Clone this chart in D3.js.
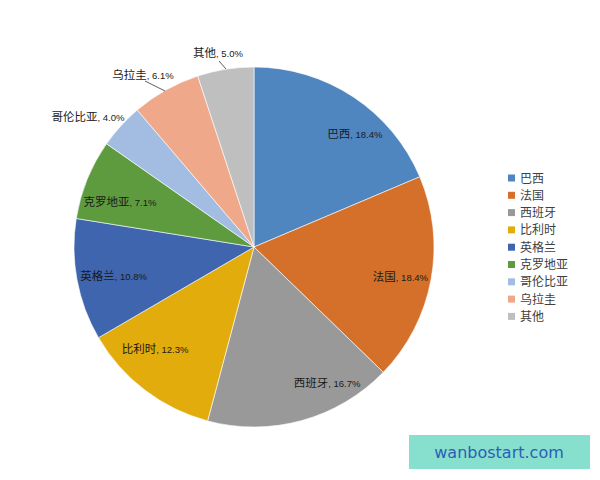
<!DOCTYPE html>
<html><head><meta charset="utf-8">
<script src="https://cdn.jsdelivr.net/npm/d3@7"></script>
<style>body{margin:0;background:#fff;}svg{display:block;}</style>
</head><body>
<svg id="c" width="600" height="480"></svg>
<script>
const categories = ["巴西","法国","西班牙","比利时","英格兰","克罗地亚","哥伦比亚","乌拉圭","其他"];
const values = [18.4, 18.4, 16.7, 12.3, 10.8, 7.1, 4.0, 6.1, 5.0];
const colors = ["#4F86C0","#D5702B","#999999","#E2AC0C","#3E65AD","#5E9A3E","#A3BDE2","#EFA98A","#BFBFBF"];

const svg = d3.select("#c");
const cx = 254, cy = 247, R = 180;
const g = svg.append("g").attr("transform", `translate(${cx},${cy})`);
const data = categories.map((c,i)=>({cat:c, v:values[i], col:colors[i]}));
const pie = d3.pie().value(d=>d.v).sort(null);
const arcs = pie(data);
const arc = d3.arc().innerRadius(0).outerRadius(R);
g.selectAll("path").data(arcs).join("path")
  .attr("d", arc).attr("fill", d=>d.data.col)
  .attr("stroke", "#fff").attr("stroke-width", 0.6);

// label layout: inside labels offset from centroid at radius 150; outside labels with leader lines
const labArc = d3.arc().innerRadius(150).outerRadius(150);
const insideOffsets = [[18,12],[-1,2],[33,-9],[-8,-17],[7,1],[5,11]];
const outsidePos = {6:[88,117], 7:[143,75], 8:[218,53]};
const leaders = {7:[[145,81],[165,91]], 8:[[219,61],[226,69]]};

arcs.forEach((a,i)=>{
  let x, y;
  if (i < 6) {
    const c = labArc.centroid(a);
    x = cx + c[0] + insideOffsets[i][0];
    y = cy + c[1] + insideOffsets[i][1];
  } else {
    [x, y] = outsidePos[i];
  }
  const t = svg.append("text").attr("x", x).attr("y", y + 4)
    .attr("text-anchor", "middle").attr("fill", "#1a1a1a")
    .attr("font-family", "'Noto Sans CJK SC', sans-serif");
  t.append("tspan").attr("font-size", 11.5).text(a.data.cat);
  t.append("tspan").attr("font-size", 9.5).attr("font-family","Arial, 'Liberation Sans', sans-serif")
    .text(", " + a.data.v.toFixed(1) + "%");
  if (leaders[i]) {
    svg.append("line").attr("x1", leaders[i][0][0]).attr("y1", leaders[i][0][1])
      .attr("x2", leaders[i][1][0]).attr("y2", leaders[i][1][1])
      .attr("stroke", "#333").attr("stroke-width", 0.8);
  }
});

// legend
const lg = svg.append("g").attr("transform", "translate(508,178)");
const step = 17.3;
categories.forEach((c,i)=>{
  lg.append("rect").attr("x", 0).attr("y", i*step - 3.5).attr("width", 7).attr("height", 7).attr("fill", colors[i]);
  lg.append("text").attr("x", 12).attr("y", i*step + 4.5).attr("font-size", 12)
    .attr("font-family", "'Noto Sans CJK SC', sans-serif").attr("fill", "#404040").text(c);
});

// watermark
svg.append("rect").attr("x", 409).attr("y", 435).attr("width", 181).attr("height", 34).attr("fill", "#86E0CD");
svg.append("text").attr("x", 499).attr("y", 458).attr("text-anchor", "middle")
  .attr("font-size", 16).attr("font-family", "'DejaVu Sans', sans-serif").attr("fill", "#2E5CB8").text("wanbostart.com");
</script>
</body></html>
